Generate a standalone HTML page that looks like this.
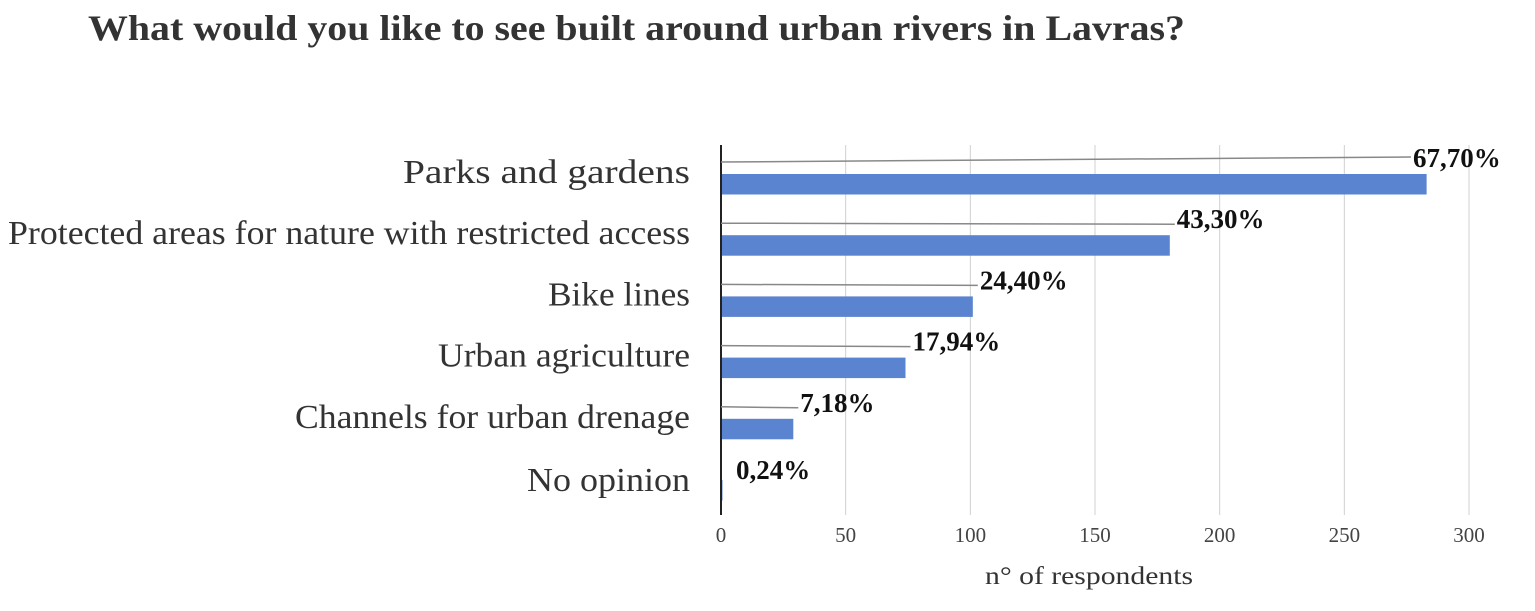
<!DOCTYPE html>
<html><head><meta charset="utf-8"><style>
body{margin:0;background:#fff;width:1535px;height:606px;overflow:hidden;font-family:"Liberation Serif",serif}
</style></head><body>
<svg width="1535" height="606" xmlns="http://www.w3.org/2000/svg">
<text x="88" y="40" font-size="36" font-weight="bold" fill="#333" font-family="Liberation Serif" textLength="1097" lengthAdjust="spacingAndGlyphs">What would you like to see built around urban rivers in Lavras?</text>
<g id="grid"></g><g id="bars"></g><g id="cats"></g><g id="ticks"></g>
<text x="985" y="584" font-size="25" fill="#333" textLength="208" lengthAdjust="spacingAndGlyphs">n° of respondents</text>
</svg>
<script>
const categories=["Parks and gardens","Protected areas for nature with restricted access","Bike lines","Urban agriculture","Channels for urban drenage","No opinion"];
const values=[283,180,101,74,29,0.6];
const pctLabels=["67,70%","43,30%","24,40%","17,94%","7,18%","0,24%"];
const ticks=[0,50,100,150,200,250,300];
const NS="http://www.w3.org/2000/svg";
const x0=721,x1=1469,max=300;
const xs=v=>x0+(x1-x0)*v/max;
const rowTop=i=>174+i*61.2;
function mk(t,a,p){const e=document.createElementNS(NS,t);for(const k in a)e.setAttribute(k,a[k]);p.appendChild(e);return e;}
const grid=document.getElementById('grid'),bars=document.getElementById('bars'),cats=document.getElementById('cats'),tk=document.getElementById('ticks');
ticks.forEach(t=>{
 if(t>0){const l=mk('line',{x1:xs(t),x2:xs(t),y1:145,y2:515,stroke:'#d0d0d0','stroke-width':1},grid);
 
 }
 const tx=mk('text',{x:xs(t),y:542,'font-size':21,fill:'#444','text-anchor':'middle'},tk);tx.textContent=t;
 
 
});
const ax=mk('line',{x1:x0,x2:x0,y1:145,y2:515,stroke:'#222','stroke-width':2},grid);


const catWidths=[287,682,142,252,395,163];
categories.forEach((c,i)=>{
 const top=rowTop(i),end=xs(values[i]);
 const r=mk('rect',{x:x0+1,y:top,width:Math.max(0,end-x0-1),height:20.5,fill:'#5b84d0'},bars);
 
 
 const lx=Math.min(end+7,1413);
 if(i<5){const ln=mk('line',{x1:x0,y1:top-12,x2:lx-2,y2:top-17+(i>0?6:0),stroke:'#888','stroke-width':1.5},bars);
 
 }
 const lt=mk('text',{x:i==5?736:lx,y:i==5?479:top-7,'font-size':27,'font-weight':'bold',fill:'#111'},bars);lt.textContent=pctLabels[i];
 
 
 const ct=mk('text',{x:690,y:i==5?491:top+9,'font-size':34,fill:'#333','text-anchor':'end',textLength:catWidths[i],lengthAdjust:'spacingAndGlyphs'},cats);ct.textContent=c;
 
 
});
</script>
</body></html>
